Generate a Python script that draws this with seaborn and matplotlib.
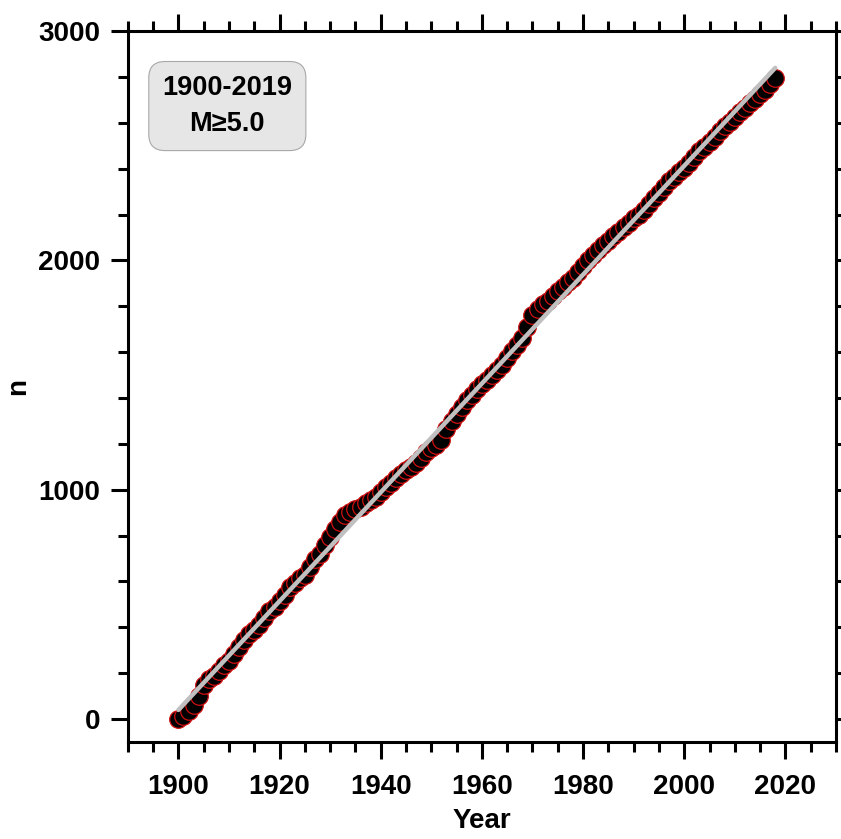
import numpy as np
import pandas as pd
import matplotlib
matplotlib.use("Agg")
import matplotlib.pyplot as plt
from matplotlib.ticker import MultipleLocator
import seaborn as sns

# cumulative number of M>=5.0 events
years = list(range(1900, 2019))
counts = [
    0, 15, 35, 60, 100, 150, 175, 190, 210, 235,
    255, 285, 315, 345, 370, 390, 410, 440, 470, 490,
    515, 540, 575, 595, 615, 630, 665, 700, 720, 760,
    795, 830, 860, 890, 905, 915, 925, 940, 955, 970,
    990, 1010, 1030, 1050, 1070, 1085, 1100, 1115, 1140, 1165,
    1180, 1195, 1215, 1265, 1300, 1330, 1360, 1390, 1415, 1440,
    1460, 1480, 1500, 1520, 1545, 1575, 1605, 1630, 1660, 1710,
    1760, 1790, 1810, 1825, 1845, 1865, 1885, 1905, 1925, 1950,
    1975, 2000, 2025, 2045, 2065, 2085, 2105, 2125, 2145, 2165,
    2185, 2200, 2220, 2245, 2270, 2295, 2320, 2345, 2365, 2385,
    2405, 2425, 2450, 2475, 2495, 2515, 2540, 2565, 2585, 2605,
    2625, 2645, 2665, 2685, 2705, 2725, 2745, 2770, 2795,
]
box_text = "1900-2019\nM\u22655.0"

df = pd.DataFrame({"Year": years, "n": counts})

sns.set_style("ticks")
plt.rcParams["font.family"] = ["Liberation Sans", "DejaVu Sans"]
plt.rcParams["font.weight"] = "bold"
for key in ["text.color", "axes.labelcolor", "xtick.color", "ytick.color", "axes.edgecolor"]:
    plt.rcParams[key] = "black"

fig = plt.figure(figsize=(8.41, 8.39), dpi=100)
ax = fig.add_axes([0.152, 0.1156, 0.842, 0.8474])

sns.regplot(data=df, x="Year", y="n", ci=None, ax=ax,
            scatter_kws=dict(s=160, color="black", edgecolors="#d01010", linewidths=0.9, alpha=1),
            line_kws=dict(color="#c0c0c0", lw=3.2))

ax.set_xlim(1890, 2030)
ax.set_ylim(-100, 3000)
ax.xaxis.set_major_locator(MultipleLocator(20))
ax.xaxis.set_minor_locator(MultipleLocator(5))
ax.yaxis.set_major_locator(MultipleLocator(1000))
ax.yaxis.set_minor_locator(MultipleLocator(200))

for s in ax.spines.values():
    s.set_visible(True)
    s.set_linewidth(2.2)
    s.set_color("black")
ax.tick_params(which="both", direction="out", top=True, right=True, width=2.2, color="black")
ax.tick_params(which="major", length=12, labelsize=20)
ax.tick_params(axis="x", which="major", pad=11)
ax.tick_params(axis="y", which="major", pad=8)
ax.tick_params(which="minor", length=7.5)
for lab in ax.get_xticklabels() + ax.get_yticklabels():
    lab.set_fontweight("bold")

ax.set_xlabel("Year", fontsize=20, fontweight="bold")
ax.set_ylabel("n", fontsize=20, fontweight="bold")
ax.xaxis.set_label_coords(0.5, -0.093)
ax.yaxis.set_label_coords(-0.136, 0.5)

ax.text(0.1405, 0.8945, box_text, transform=ax.transAxes, ha="center", va="center",
        fontsize=19.5, fontweight="bold", linespacing=1.5,
        bbox=dict(boxstyle="round,pad=0.5,rounding_size=0.6", facecolor="#e6e6e6",
                  edgecolor="#a8a8a8", lw=0.8))

fig.savefig("out.png", dpi=100)
